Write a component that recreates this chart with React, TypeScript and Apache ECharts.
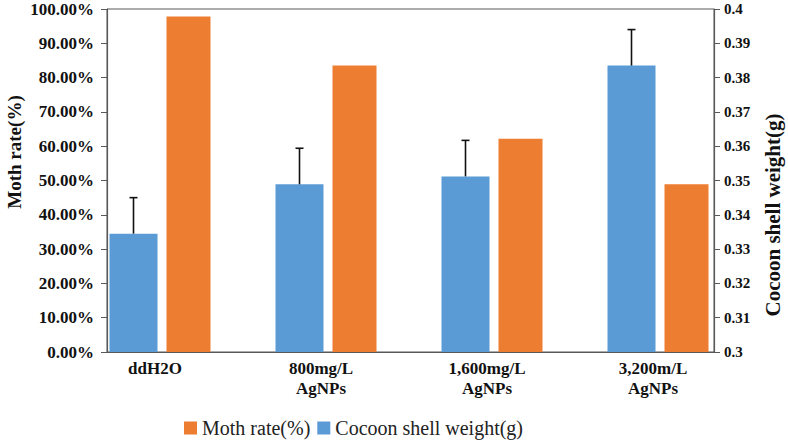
import React, { useEffect, useRef } from "react";
import * as echarts from "echarts";

const categories = ["ddH2O", "800mg/L\nAgNPs", "1,600mg/L\nAgNPs", "3,200m/L\nAgNPs"];
const mothRate = [0.978, 0.835, 0.622, 0.489];
const shellWeight = [0.3345, 0.3489, 0.3512, 0.3835];
const shellWeightErr = [0.0105, 0.0105, 0.0105, 0.0105];
const leftTicks = { min: 0, max: 1, interval: 0.1 };
const rightTicks = { min: 0.3, max: 0.4, interval: 0.01 };

const BLUE = "#5B9BD5";
const ORANGE = "#ED7D31";
const AXIS = "#595959";
const SERIF = "'Liberation Serif', 'Times New Roman', serif";
const BLUE_W = 48;
const ORANGE_W = 44;
const GAP = 9;

export default function App() {
  const ref = useRef<HTMLDivElement>(null);
  useEffect(() => {
    if (!ref.current) return;
    const chart = echarts.init(ref.current, undefined, { renderer: "svg" });
    const total = BLUE_W + GAP + ORANGE_W;
    const blueOffset = -total / 2 + BLUE_W / 2;
    chart.setOption({
      animation: false,
      backgroundColor: "#fff",
      grid: [
        { left: 107, right: 74, top: 9, bottom: 90, show: true, borderColor: AXIS, borderWidth: 1, backgroundColor: "transparent" },
        { left: 77, right: 47, top: 9, bottom: 90 },
      ],
      xAxis: [
        {
          type: "category", gridIndex: 0, data: categories,
          axisLine: { show: true, lineStyle: { color: AXIS, width: 1.2 } },
          axisTick: { show: false }, axisLabel: { show: false }, splitLine: { show: false },
        },
        {
          type: "category", gridIndex: 1, data: categories,
          axisLine: { show: false }, axisTick: { show: false }, splitLine: { show: false },
          axisLabel: {
            fontFamily: SERIF, fontWeight: "bold", fontSize: 17, color: "#111",
            lineHeight: 20, margin: 6, interval: 0, padding: [0, 10, 0, 0],
          },
        },
      ],
      yAxis: [
        {
          type: "value", gridIndex: 0, position: "left", ...leftTicks,
          axisLine: { show: true, lineStyle: { color: AXIS, width: 1.2 } },
          axisTick: { show: true, length: 6, lineStyle: { color: AXIS } },
          splitLine: { show: false },
          axisLabel: {
            fontFamily: SERIF, fontWeight: "bold", fontSize: 17, color: "#111", margin: 13,
            formatter: (v: number) => (v * 100).toFixed(2) + "%",
          },
        },
        {
          type: "value", gridIndex: 0, position: "right", ...rightTicks,
          axisLine: { show: true, lineStyle: { color: AXIS, width: 1.2 } },
          axisTick: { show: true, length: 6, lineStyle: { color: AXIS } },
          splitLine: { show: false },
          axisLabel: {
            fontFamily: SERIF, fontWeight: "bold", fontSize: 15, color: "#111", margin: 10,
            formatter: (v: number) => String(parseFloat(v.toFixed(2))),
          },
        },
        { type: "value", gridIndex: 1, show: false, ...leftTicks },
        { type: "value", gridIndex: 1, show: false, ...rightTicks },
      ],
      legend: {
        data: ["Moth rate(%)", "Cocoon shell weight(g)"],
        left: 184, top: 417, padding: 0, icon: "rect", itemWidth: 13, itemHeight: 13, itemGap: 7,
        textStyle: { fontFamily: SERIF, fontSize: 20, color: "#222", lineHeight: 22 },
      },
      graphic: [
        {
          type: "text", x: 14, y: 152, rotation: Math.PI / 2,
          style: { text: "Moth rate(%)", font: `bold 19px ${SERIF}`, fill: "#111", textAlign: "center", textVerticalAlign: "middle" },
        },
        {
          type: "text", x: 773, y: 215, rotation: Math.PI / 2,
          style: { text: "Cocoon shell weight(g)", font: `bold 21px ${SERIF}`, fill: "#111", textAlign: "center", textVerticalAlign: "middle" },
        },
      ],
      series: [
        {
          name: "Cocoon shell weight(g)", type: "bar", xAxisIndex: 1, yAxisIndex: 3,
          data: shellWeight, barWidth: BLUE_W, barGap: (GAP / BLUE_W) * 100 + "%",
          itemStyle: { color: BLUE },
        },
        {
          name: "Moth rate(%)", type: "bar", xAxisIndex: 1, yAxisIndex: 2,
          data: mothRate, barWidth: ORANGE_W,
          itemStyle: { color: ORANGE },
        },
        {
          name: "err", type: "custom", xAxisIndex: 1, yAxisIndex: 3, z: 5,
          data: shellWeight.map((v, i) => [i, v, v + shellWeightErr[i]]),
          renderItem: (params: any, api: any) => {
            const p0 = api.coord([api.value(0), api.value(1)]);
            const p1 = api.coord([api.value(0), api.value(2)]);
            const x = p0[0] + blueOffset;
            const style = { stroke: "#111", lineWidth: 1.6 };
            return {
              type: "group",
              children: [
                { type: "line", shape: { x1: x, y1: p0[1], x2: x, y2: p1[1] }, style },
                { type: "line", shape: { x1: x - 4, y1: p1[1], x2: x + 4, y2: p1[1] }, style },
              ],
            };
          },
        },
      ],
    });
    return () => chart.dispose();
  }, []);
  return <div ref={ref} style={{ position: "absolute", left: 0, top: 0, width: 788, height: 442 }} />;
}
